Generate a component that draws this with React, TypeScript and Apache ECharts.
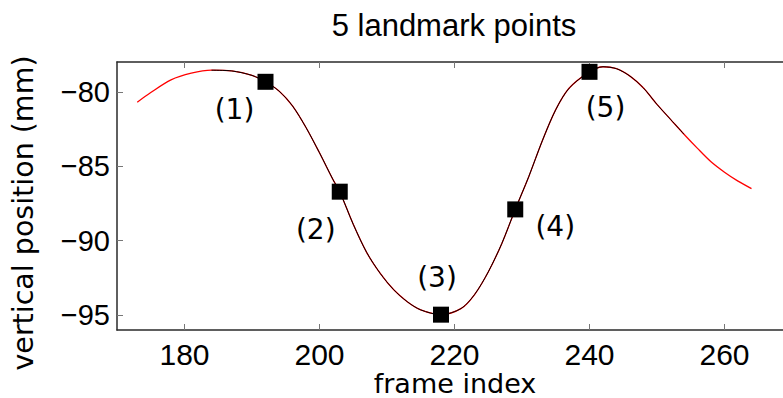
import React, { useEffect, useRef } from "react";
import * as echarts from "echarts";

// Vertical position trace (mm) against frame index
const curveFrames = [
  173, 175, 178, 181, 184, 187, 190, 192, 194, 196, 198, 200, 202, 203, 205,
  207, 209, 211, 213, 215, 218, 221, 223, 225, 227, 229, 231, 233, 235, 237,
  240, 242, 244, 246, 248, 250, 252, 254, 256, 258, 260, 262, 264,
];
const curveValues = [
  -80.7, -80.05, -79.2, -78.75, -78.55, -78.6, -78.9, -79.33, -79.95, -80.95,
  -82.4, -84.1, -85.9, -86.71, -88.9, -90.8, -92.2, -93.3, -94.1, -94.65,
  -94.97, -94.55, -93.6, -92.1, -90.2, -87.9, -85.7, -83.3, -81.2, -79.75,
  -78.66, -78.32, -78.45, -78.95, -79.75, -80.85, -81.85, -82.85, -83.8,
  -84.7, -85.4, -86.0, -86.5,
];

// Frames covered by the fitted (black) segment
const fitStart = 184;
const fitEnd = 254;

// Landmark points
const landmarkFrames = [192, 203, 218, 229, 240];
const landmarkValues = [-79.33, -86.71, -94.97, -87.9, -78.66];
const landmarkLabels = ["(1)", "(2)", "(3)", "(4)", "(5)"];
const landmarkLabelOffsets = [
  [-31, 28],
  [-24, 38],
  [-4, -37],
  [40, 17],
  [16, 36],
];

const xTicks = [180, 200, 220, 240, 260];
const yTicks = [-95, -90, -85, -80];

const titleText = "5 landmark points";
const xName = "frame index";
const yName = "vertical position (mm)";

export default function App() {
  const ref = useRef<HTMLDivElement>(null);

  useEffect(() => {
    if (!ref.current) return;
    const chart = echarts.init(ref.current, null, { renderer: "svg" });

    const full = curveFrames.map((f, i) => [f, curveValues[i]]);
    const fit = full.filter(([f]) => f >= fitStart && f <= fitEnd);

    const tickFont = "Liberation Sans";
    const axisLineStyle = { color: "#2a2a2a", width: 1.5 };
    const tickStyle = { color: "#777", width: 1 };

    chart.setOption({
      animation: false,
      backgroundColor: "#fff",
      // the plot box runs past the right edge of the canvas
      grid: {
        left: 117,
        top: 62,
        width: 675,
        bottom: 68,
        containLabel: false,
        outerBoundsMode: "none",
      },
      xAxis: [
        {
          type: "value",
          position: "bottom",
          min: 170,
          max: 270,
          splitLine: { show: false },
          axisLine: { show: true, lineStyle: axisLineStyle },
          axisTick: {
            show: true,
            inside: true,
            length: 6,
            lineStyle: tickStyle,
            customValues: xTicks,
          },
          axisLabel: {
            show: true,
            customValues: xTicks,
            margin: 9,
            fontFamily: tickFont,
            fontSize: 30,
            color: "#000",
          },
        },
        {
          type: "value",
          position: "top",
          min: 170,
          max: 270,
          splitLine: { show: false },
          axisLine: { show: true, lineStyle: axisLineStyle },
          axisTick: {
            show: true,
            inside: true,
            length: 6,
            lineStyle: tickStyle,
            customValues: xTicks,
          },
          axisLabel: { show: false },
        },
      ],
      yAxis: {
        type: "value",
        min: -96,
        max: -78,
        splitLine: { show: false },
        axisLine: { show: true, lineStyle: axisLineStyle },
        axisTick: {
          show: true,
          inside: true,
          length: 6,
          lineStyle: tickStyle,
          customValues: yTicks,
        },
        axisLabel: {
          show: true,
          customValues: yTicks,
          margin: 7,
          fontFamily: tickFont,
          fontSize: 29,
          color: "#000",
          formatter: (v: number) => String(v).replace("-", "\u2212"),
        },
      },
      graphic: [
        {
          type: "text",
          x: 454,
          y: 25,
          style: {
            text: titleText,
            fontFamily: tickFont,
            fontSize: 31,
            fill: "#000",
            align: "center",
            verticalAlign: "middle",
          },
        },
        {
          type: "text",
          x: 455,
          y: 383,
          style: {
            text: xName,
            fontFamily: "DejaVu Sans",
            fontSize: 27,
            fill: "#000",
            align: "center",
            verticalAlign: "middle",
          },
        },
        {
          type: "text",
          x: 23,
          y: 213,
          rotation: Math.PI / 2,
          style: {
            text: yName,
            fontFamily: "DejaVu Sans",
            fontSize: 28.5,
            fill: "#000",
            align: "center",
            verticalAlign: "middle",
          },
        },
      ],
      series: [
        {
          type: "line",
          data: full,
          smooth: 0.3,
          symbol: "none",
          lineStyle: { color: "#ff0000", width: 1.3 },
          z: 2,
        },
        {
          type: "line",
          data: fit,
          smooth: 0.3,
          symbol: "none",
          lineStyle: { color: "#000", width: 1 },
          z: 3,
        },
        {
          type: "scatter",
          symbol: "rect",
          symbolSize: 16,
          itemStyle: { color: "#000", opacity: 1 },
          z: 4,
          data: landmarkFrames.map((f, i) => ({
            value: [f, landmarkValues[i]],
            label: {
              show: true,
              position: "inside",
              offset: landmarkLabelOffsets[i],
              formatter: landmarkLabels[i],
              fontFamily: "DejaVu Sans",
              fontSize: 28,
              color: "#000",
              opacity: 1,
            },
          })),
        },
      ],
    });

    return () => chart.dispose();
  }, []);

  return (
    <div
      ref={ref}
      style={{ position: "absolute", left: 0, top: 0, width: 783, height: 398 }}
    />
  );
}
